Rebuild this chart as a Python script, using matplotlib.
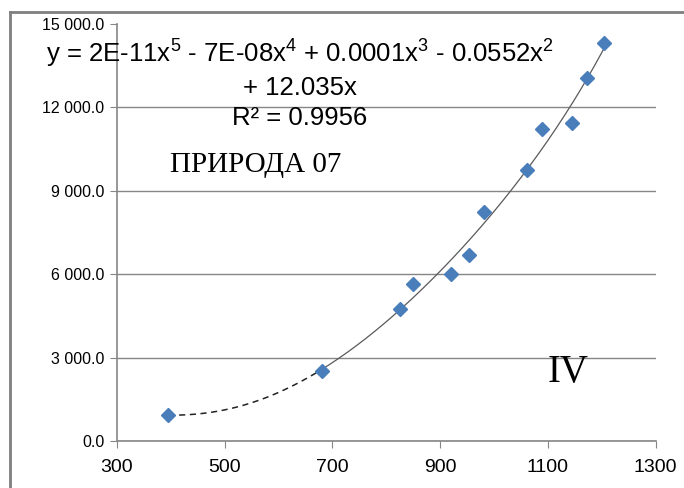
import numpy as np
import matplotlib
matplotlib.use("Agg")
from matplotlib import pyplot as plt
from matplotlib.lines import Line2D
from matplotlib.ticker import FuncFormatter

plt.rcParams['font.family'] = ['Liberation Sans', 'DejaVu Sans']
plt.rcParams['mathtext.default'] = 'regular'

# data
x_vals = [396, 681, 826, 850, 920, 953, 981, 1062, 1089, 1145, 1172, 1205]
y_vals = [934, 2515, 4732, 5641, 6000, 6708, 8239, 9737, 11222, 11426, 13068, 14312]

x_ticks = [300, 500, 700, 900, 1100, 1300]
y_ticks = [0, 3000, 6000, 9000, 12000, 15000]

eq_lines = ["y = 2E-11x$^5$ - 7E-08x$^4$ + 0.0001x$^3$ - 0.0552x$^2$",
            "+ 12.035x",
            "R² = 0.9956"]
label_main = "ПРИРОДА 07"
label_zone = "IV"

fig = plt.figure(figsize=(6.84, 4.88), dpi=100)
ax = fig.add_axes([116.7 / 684, 47 / 488, (655.7 - 116.7) / 684, 417 / 488])

grey = '#868686'

# poly trendline, 5th degree, no intercept (like excel)
xs = np.array(x_vals, dtype=float)
ys = np.array(y_vals, dtype=float)
sc = 1000.0
A = np.column_stack([(xs / sc) ** k for k in range(1, 6)])
coef, *_ = np.linalg.lstsq(A, ys, rcond=None)
xx = np.linspace(xs[0], xs[-1], 300)
yy = np.column_stack([(xx / sc) ** k for k in range(1, 6)]) @ coef
k2 = np.searchsorted(xx, xs[1])
ax.plot(xx[k2 - 1:], yy[k2 - 1:], color='#5a5a5a', lw=0.9, zorder=2)
ax.plot(xx[:k2], yy[:k2], color='#222222', lw=1.1, ls=(0, (4, 3)), zorder=2)

ax.plot(x_vals, y_vals, ls='none', marker='D', ms=7, color='#4a7ebb', zorder=3)

ax.set_xlim(300, 1300)
ax.set_ylim(0, 15000)
ax.set_xticks(x_ticks)
ax.set_yticks(y_ticks)
ax.yaxis.set_major_formatter(FuncFormatter(lambda v, p: '{:,.1f}'.format(v).replace(',', ' ')))
ax.tick_params(axis='x', labelsize=14, length=5, color=grey, pad=8)
ax.tick_params(axis='y', labelsize=11.5, length=5, color=grey, pad=4)
ax.yaxis.grid(True, color=grey, lw=1)
ax.get_ygridlines()[-1].set_visible(False)
ax.set_axisbelow(True)
for s in ['top', 'right']:
    ax.spines[s].set_visible(False)
for s in ['left', 'bottom']:
    ax.spines[s].set_color(grey)
    ax.spines[s].set_linewidth(1.2)

# trendline equation, three lines
for line, base in zip(eq_lines, [63, 95, 125]):
    fig.text(300 / 684, 1 - base / 488, line, ha='center', va='baseline', fontsize=18.5)

fig.text(170 / 684, 1 - 172 / 488, label_main, ha='left', va='baseline', fontsize=21,
         family=['Liberation Serif', 'DejaVu Serif'])
fig.text(548 / 684, 1 - 382 / 488, label_zone, ha='left', va='baseline', fontsize=28,
         family=['Liberation Serif', 'DejaVu Serif'])

# chart frame (cut off at right and bottom)
fig.add_artist(Line2D([10 / 684, 1.0], [1 - 11.5 / 488, 1 - 11.5 / 488], color='#7f7f7f', lw=2))
fig.add_artist(Line2D([10 / 684, 10 / 684], [0, 1 - 11.5 / 488], color='#7f7f7f', lw=2))

fig.savefig('out.png', dpi=100)
